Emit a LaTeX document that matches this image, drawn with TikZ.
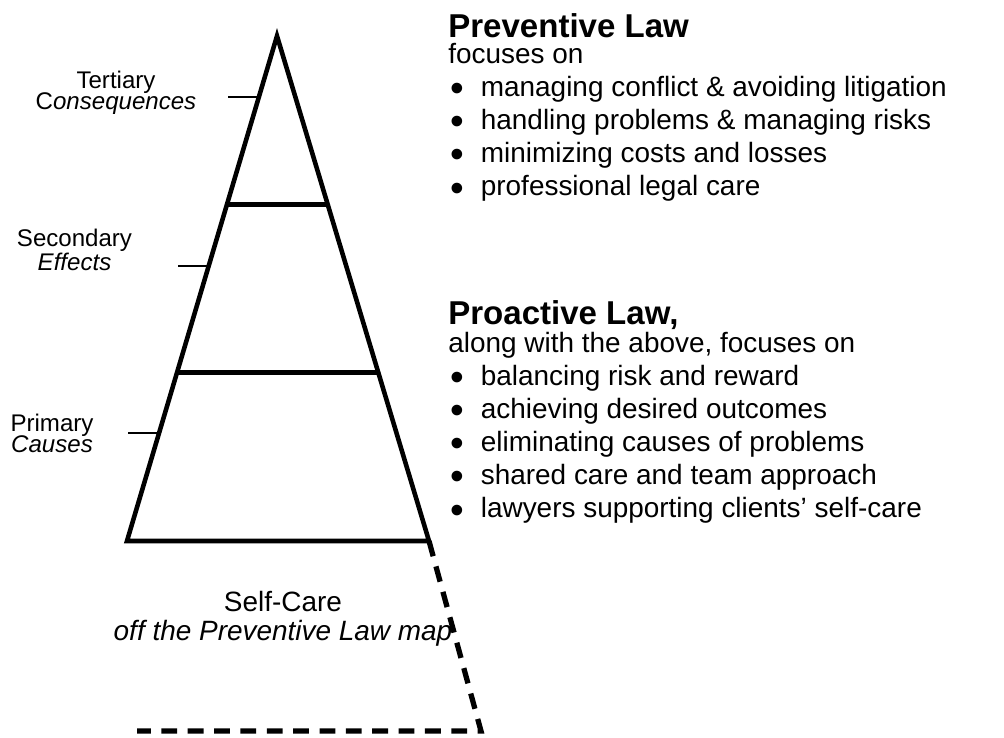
\documentclass[tikz,border=0pt]{standalone}
\usepackage{fontspec}
\setmainfont{Liberation Sans}
\usetikzlibrary{calc}
\newcommand{\lawitem}{\makebox[18.5pt][l]{\hspace{1pt}\raisebox{-0.18em}{\scalebox{1.4}{\textbullet}}}}

\begin{document}
\begin{tikzpicture}[
    edge/.style={line width=2.6pt},
    tickmark/.style={line width=1.2pt},
    offmap/.style={line width=3pt,dash pattern=on 9pt off 6pt},
    level/.style={align=center,anchor=base,inner sep=0pt,font=\fontsize{13.7}{12.5}\selectfont},
    head/.style={anchor=base west,inner sep=0pt,font=\fontsize{18.8}{22}\selectfont\bfseries},
    body/.style={anchor=base west,inner sep=0pt,align=left,font=\fontsize{15.9}{18.8}\selectfont}
  ]
  \useasboundingbox (0,0) rectangle (20.08,14.76);

  % pyramid with its three levels
  \coordinate (top) at (5.54,14.04);
  \coordinate (bl) at (2.54,3.94);
  \coordinate (br) at (8.58,3.94);
  \draw[edge] (top) -- (bl) -- (br) -- cycle;
  \draw[edge] ($(top)!1/3!(bl)$) -- ($(top)!1/3!(br)$);
  \draw[edge] ($(top)!2/3!(bl)$) -- ($(top)!2/3!(br)$);

  % self-care, off the map
  \coordinate (sc1) at (9.62,0.14);
  \coordinate (sc2) at (2.74,0.14);
  \draw[offmap] (br) -- (sc1) -- (sc2);

  % level ticks and labels (base = last line)
  \coordinate (t3) at ($(top)!0.121!(bl)$);
  \coordinate (t2) at ($(top)!0.455!(bl)$);
  \coordinate (t1) at ($(top)!0.786!(bl)$);
  \draw[tickmark] (t3) -- ++(-0.62,0);
  \draw[tickmark] (t2) -- ++(-0.62,0);
  \draw[tickmark] (t1) -- ++(-0.62,0);
  \node[level] (tert) at (2.32,12.56) {Tertiary\\C\textit{onsequences}};
  \node[level] (sec) at (1.49,9.34) {Secondary\\\textit{Effects}};
  \node[level] (prim) at (1.04,5.70) {Primary\\\textit{Causes}};
  \node[level,font=\fontsize{15.9}{16.5}\selectfont] (self) at (5.66,1.94)
    {Self-Care\\\textit{off the Preventive Law map}};

  % preventive law
  \node[head] (prevhd) at (8.96,14.0) {Preventive Law};
  \node[body] (prevtx) at (8.96,10.84) {focuses on\\
    \lawitem managing conflict \& avoiding litigation\\
    \lawitem handling problems \& managing risks\\
    \lawitem minimizing costs and losses\\
    \lawitem professional legal care};

  % proactive law
  \node[head] (prohd) at (8.96,8.26) {Proactive Law,};
  \node[body] (protx) at (8.96,4.40) {along with the above, focuses on\\
    \lawitem balancing risk and reward\\
    \lawitem achieving desired outcomes\\
    \lawitem eliminating causes of problems\\
    \lawitem shared care and team approach\\
    \lawitem lawyers supporting clients’ self-care};
\end{tikzpicture}
\end{document}
